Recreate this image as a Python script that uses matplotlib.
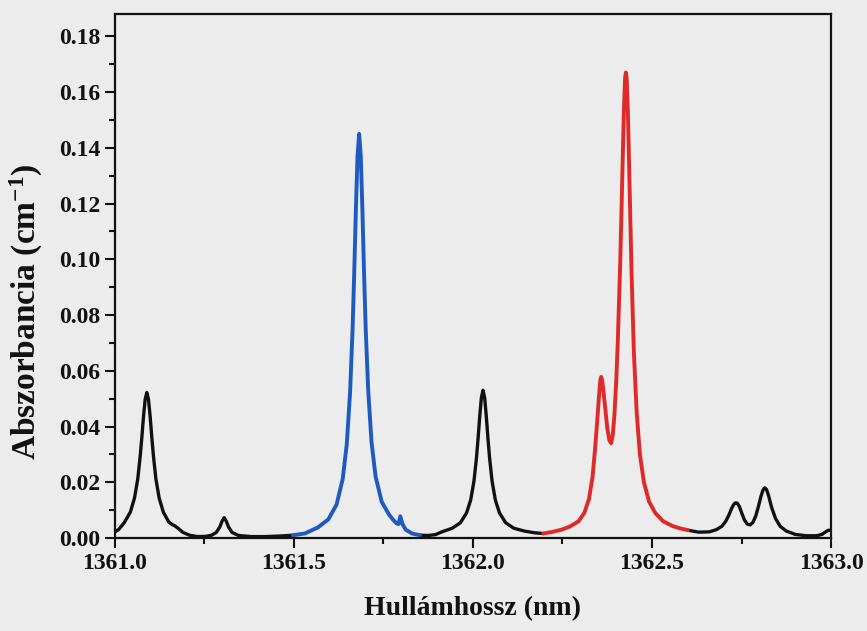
import numpy as np
import matplotlib
matplotlib.use('Agg')
import matplotlib.pyplot as plt
from matplotlib.ticker import MultipleLocator

plt.rcParams['font.family'] = ['Liberation Serif', 'DejaVu Serif']
plt.rcParams['font.weight'] = 'bold'
plt.rcParams['mathtext.default'] = 'regular'

# spectrum sampled along the wavelength axis, split by colour
black_a_x = [1361.000, 1361.010, 1361.026, 1361.043, 1361.0545, 1361.0637, 1361.0706, 1361.0752,
             1361.0798, 1361.0844, 1361.089, 1361.0936, 1361.0982, 1361.1028, 1361.1074, 1361.1143,
             1361.1235, 1361.135, 1361.150, 1361.160, 1361.167, 1361.176, 1361.190, 1361.208,
             1361.230, 1361.255, 1361.270, 1361.283, 1361.293, 1361.299, 1361.305, 1361.311,
             1361.317, 1361.327, 1361.345, 1361.380, 1361.420, 1361.460, 1361.497]
black_a_y = [0.0022, 0.0030, 0.0055, 0.0093, 0.0143, 0.0212, 0.0295, 0.0363,
             0.0437, 0.0498, 0.0522, 0.0498, 0.0437, 0.0363, 0.0295, 0.0212,
             0.0143, 0.0093, 0.0058, 0.0048, 0.0044, 0.0035, 0.0020, 0.0010,
             0.0005, 0.0006, 0.0010, 0.0020, 0.0040, 0.0060, 0.0073, 0.0060,
             0.0040, 0.0020, 0.0009, 0.0005, 0.0005, 0.0007, 0.0010]

blue_x = [1361.497, 1361.530, 1361.567, 1361.596, 1361.619, 1361.636, 1361.6475, 1361.6567,
          1361.6636, 1361.6682, 1361.6728, 1361.6774, 1361.682, 1361.6866, 1361.6912, 1361.6958,
          1361.7004, 1361.7073, 1361.7165, 1361.728, 1361.745, 1361.765, 1361.777, 1361.787,
          1361.792, 1361.797, 1361.803, 1361.812, 1361.830, 1361.852]
blue_y = [0.0010, 0.0016, 0.0038, 0.0067, 0.0120, 0.0211, 0.0337, 0.0522,
          0.0747, 0.0948, 0.1174, 0.1369, 0.1450, 0.1369, 0.1174, 0.0948,
          0.0747, 0.0530, 0.0345, 0.0220, 0.0130, 0.0085, 0.0065, 0.0052,
          0.0050, 0.0078, 0.0050, 0.0030, 0.0016, 0.0010]

black_b_x = [1361.852, 1361.875, 1361.895, 1361.913, 1361.942, 1361.965, 1361.982, 1361.9935,
             1362.0027, 1362.0096, 1362.0142, 1362.0188, 1362.0234, 1362.028, 1362.0326, 1362.0372,
             1362.0418, 1362.0464, 1362.0533, 1362.0625, 1362.074, 1362.091, 1362.114, 1362.143,
             1362.170, 1362.196]
black_b_y = [0.0010, 0.0009, 0.0012, 0.0022, 0.0035, 0.0055, 0.0090, 0.0136,
             0.0204, 0.0286, 0.0357, 0.0436, 0.0503, 0.0530, 0.0503, 0.0436,
             0.0357, 0.0286, 0.0204, 0.0136, 0.0090, 0.0055, 0.0035, 0.0025,
             0.0019, 0.0016]

red_x = [1362.196, 1362.222, 1362.248, 1362.272, 1362.295, 1362.311, 1362.324, 1362.334,
         1362.341, 1362.347, 1362.352, 1362.3555, 1362.358, 1362.3605, 1362.364, 1362.369,
         1362.375, 1362.381, 1362.386, 1362.3905, 1362.395, 1362.400, 1362.4046, 1362.4113,
         1362.4169, 1362.4214, 1362.4248, 1362.427, 1362.4292, 1362.4326, 1362.4371, 1362.4427,
         1362.4494, 1362.4572, 1362.4662, 1362.4774, 1362.492, 1362.509, 1362.531, 1362.559,
         1362.580, 1362.600]
red_y = [0.0016, 0.0022, 0.0030, 0.0042, 0.0060, 0.0090, 0.0140, 0.0220,
         0.0320, 0.0420, 0.0510, 0.0565, 0.0578, 0.0568, 0.0530, 0.0470,
         0.0395, 0.0350, 0.0340, 0.0370, 0.0440, 0.0560, 0.0710, 0.0990,
         0.1290, 0.1530, 0.1650, 0.1670, 0.1650, 0.1530, 0.1280, 0.0960,
         0.0665, 0.0450, 0.0300, 0.0200, 0.0130, 0.0090, 0.0060, 0.0042,
         0.0034, 0.0028]

black_c_x = [1362.600, 1362.630, 1362.660, 1362.680, 1362.695, 1362.706, 1362.715, 1362.722,
             1362.728, 1362.733, 1362.738, 1362.744, 1362.751, 1362.758, 1362.766, 1362.774,
             1362.782, 1362.790, 1362.797, 1362.804, 1362.810, 1362.815, 1362.820, 1362.826,
             1362.834, 1362.845, 1362.858, 1362.875, 1362.900, 1362.930, 1362.960, 1362.975,
             1362.985, 1362.993, 1363.000]
black_c_y = [0.0028, 0.0021, 0.0022, 0.0030, 0.0042, 0.0060, 0.0083, 0.0105,
             0.0120, 0.0126, 0.0125, 0.0113, 0.0088, 0.0065, 0.0050, 0.0047,
             0.0056, 0.0080, 0.0112, 0.0148, 0.0172, 0.0180, 0.0174, 0.0150,
             0.0110, 0.0070, 0.0042, 0.0025, 0.0013, 0.0008, 0.0008, 0.0013,
             0.0022, 0.0028, 0.0027]

bg = '#ececec'
fig = plt.figure(figsize=(8.67, 6.31), dpi=100, facecolor=bg)
ax = fig.add_axes([0.1326, 0.1474, 0.8259, 0.8304], facecolor=bg)

for xs, ys in [(black_a_x, black_a_y), (black_b_x, black_b_y), (black_c_x, black_c_y)]:
    ax.plot(xs, ys, color='#111111', lw=2.4, solid_capstyle='round', solid_joinstyle='round')
ax.plot(blue_x, blue_y, color='#1d5bc0', lw=2.8, solid_capstyle='round', solid_joinstyle='round')
ax.plot(red_x, red_y, color='#e02a2a', lw=2.8, solid_capstyle='round', solid_joinstyle='round')

ax.set_xlim(1361.0, 1363.0)
ax.set_ylim(0.0, 0.188)
ax.xaxis.set_major_locator(MultipleLocator(0.5))
ax.xaxis.set_minor_locator(MultipleLocator(0.25))
ax.yaxis.set_minor_locator(MultipleLocator(0.01))
ax.set_yticks(np.arange(0, 0.181, 0.02))
ax.xaxis.set_major_formatter(plt.FuncFormatter(lambda v, p: f'{v:.1f}'))
ax.yaxis.set_major_formatter(plt.FuncFormatter(lambda v, p: f'{v:.2f}'))

ax.tick_params(which='both', direction='out', width=1.5, labelsize=17,
               top=False, right=False, colors='#111111')
ax.tick_params(which='major', length=7)
ax.tick_params(which='minor', length=4)
for s in ax.spines.values():
    s.set_linewidth(1.6)
    s.set_color('#111111')

ax.set_xlabel('Hullámhossz (nm)', fontsize=20, fontweight='bold', labelpad=16, color='#111111')
fig.text(26 / 867, 1 - 312 / 631, 'Abszorbancia (cm$^{-1}$)', rotation=90,
         ha='center', va='center', fontsize=24, fontweight='bold', color='#111111')

fig.savefig('out.png', dpi=100, facecolor=bg)
